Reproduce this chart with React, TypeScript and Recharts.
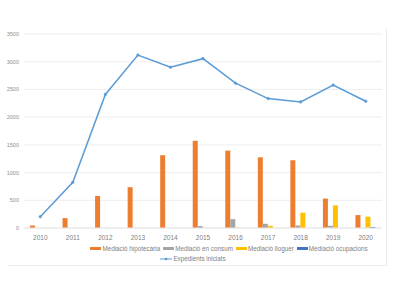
import React from "react";
import { ComposedChart, Bar, Line, XAxis, YAxis, CartesianGrid } from "recharts";

const years = ["2010", "2011", "2012", "2013", "2014", "2015", "2016", "2017", "2018", "2019", "2020"];
const hipotecaria = [45, 178, 578, 736, 1313, 1573, 1396, 1276, 1222, 531, 233];
const consum = [0, 0, 0, 0, 0, 35, 160, 76, 45, 40, 0];
const lloguer = [0, 0, 0, 0, 0, 0, 8, 40, 276, 409, 204];
const ocupacions = [0, 0, 0, 0, 0, 0, 0, 0, 0, 0, 18];
const expedients = [204, 825, 2410, 3120, 2900, 3055, 2612, 2335, 2275, 2578, 2287];
const yTicks = [0, 500, 1000, 1500, 2000, 2500, 3000, 3500];

const seriesInfo = [
  { key: "hip", name: "Mediació hipotecària", color: "#ED7D31" },
  { key: "con", name: "Mediació en consum", color: "#A5A5A5" },
  { key: "llo", name: "Mediació lloguer", color: "#FFC000" },
  { key: "ocu", name: "Mediació ocupacions", color: "#4472C4" },
];
const lineInfo = { key: "exp", name: "Expedients iniciats", color: "#5B9BD5" };

const data = years.map((y, i) => ({
  year: y,
  hip: hipotecaria[i],
  con: consum[i],
  llo: lloguer[i],
  ocu: ocupacions[i],
  exp: expedients[i],
}));

const font = "'Liberation Sans', Arial, sans-serif";

export default function App() {
  return (
    <div style={{ position: "absolute", left: 0, top: 0, width: 400, height: 300, background: "#fff", fontFamily: font }}>
      <div style={{ position: "absolute", left: 386, top: 28, width: 1, height: 238, background: "#EBEBEB" }} />
      <div style={{ position: "absolute", left: 8, top: 265, width: 379, height: 1, background: "#EBEBEB" }} />
      <ComposedChart
        width={400}
        height={300}
        data={data}
        margin={{ top: 34, right: 18, left: 0, bottom: 57 }}
        barGap={0}
        barSize={5}
      >
        <CartesianGrid vertical={false} stroke="#EEEEEE" strokeWidth={1} />
        <XAxis
          dataKey="year"
          axisLine={{ stroke: "#E6E6E6" }}
          tickLine={false}
          height={15}
          tick={{ fontSize: 6.5, fill: "#808080", fontFamily: font }}
          dy={-1}
        />
        <YAxis
          domain={[0, 3500]}
          ticks={yTicks}
          width={24}
          axisLine={false}
          tickLine={false}
          interval={0}
          tick={{ fontSize: 5.5, fill: "#909090", fontFamily: font }}
          dx={3}
        />
        {seriesInfo.map((s) => (
          <Bar key={s.key} dataKey={s.key} name={s.name} fill={s.color} isAnimationActive={false} />
        ))}
        <Line
          dataKey={lineInfo.key}
          name={lineInfo.name}
          stroke={lineInfo.color}
          strokeWidth={1.5}
          dot={{ r: 1.3, fill: lineInfo.color, stroke: lineInfo.color, strokeWidth: 0.5 }}
          isAnimationActive={false}
        />
      </ComposedChart>
      <div style={{ position: "absolute", left: 0, top: 245, width: 400, fontSize: 6.3, color: "#808080", textAlign: "center" }}>
        <div style={{ display: "flex", justifyContent: "center", gap: 3, paddingLeft: 58 }}>
          {seriesInfo.map((s) => (
            <span key={s.key} style={{ display: "flex", alignItems: "center", whiteSpace: "nowrap" }}>
              <span style={{ display: "inline-block", width: 11, height: 3, background: s.color, marginRight: 1 }} />
              {s.name}
            </span>
          ))}
        </div>
        <div style={{ display: "flex", justifyContent: "center", marginTop: 3, marginLeft: -14 }}>
          <span style={{ display: "flex", alignItems: "center", whiteSpace: "nowrap" }}>
            <svg width={12} height={4} style={{ marginRight: 1 }}>
              <line x1={0} y1={2} x2={12} y2={2} stroke={lineInfo.color} strokeWidth={1} />
              <circle cx={6} cy={2} r={1.3} fill={lineInfo.color} />
            </svg>
            {lineInfo.name}
          </span>
        </div>
      </div>
    </div>
  );
}
